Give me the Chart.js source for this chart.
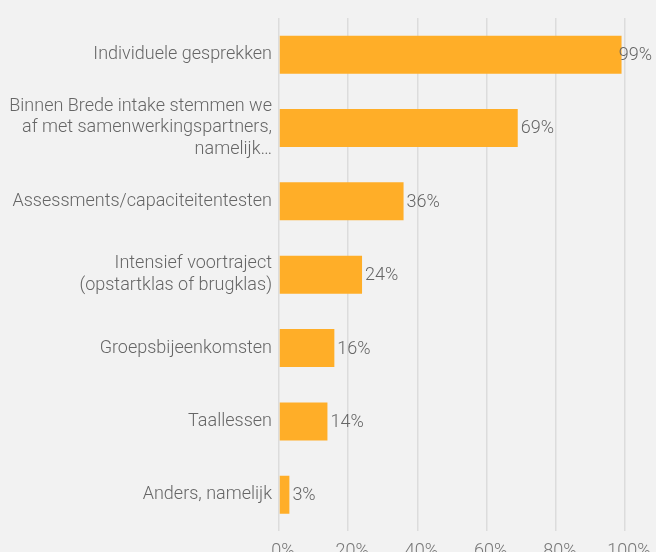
<!DOCTYPE html>
<html>
<head>
<meta charset="utf-8">
<script src="https://cdn.jsdelivr.net/npm/chart.js@4"></script>
<style>
  html, body { margin: 0; padding: 0; background: #f2f2f2; overflow: hidden; }
  #wrap { width: 656px; height: 575px; }
</style>
</head>
<body>
<div id="wrap"><canvas id="chart-area"></canvas></div>
<script>
// categories (multi-line labels as arrays)
var categories = [
  'Individuele gesprekken',
  ['Binnen Brede intake stemmen we', 'af met samenwerkingspartners,', 'namelijk…'],
  'Assessments/capaciteitentesten',
  ['Intensief voortraject', '(opstartklas of brugklas)'],
  'Groepsbijeenkomsten',
  'Taallessen',
  'Anders, namelijk'
];
// percentages
var percentages = [99, 69, 36, 24, 16, 14, 3];
var tickMax = 100;
var tickStep = 10;

var fontFamily = 'Roboto, "Noto Sans", sans-serif';

// draws "xx%" just right of every bar, kept inside the canvas
var valueLabels = {
  id: 'valueLabels',
  afterDatasetsDraw: function(chart) {
    var ctx = chart.ctx;
    var meta = chart.getDatasetMeta(0);
    ctx.save();
    ctx.font = '300 18px ' + fontFamily;
    ctx.fillStyle = '#666666';
    ctx.textAlign = 'left';
    ctx.textBaseline = 'middle';
    meta.data.forEach(function(bar, i) {
      var txt = percentages[i] + '%';
      var w = ctx.measureText(txt).width;
      var x = Math.min(bar.x + 3, chart.width - w - 4);
      ctx.fillText(txt, x, bar.y + 1);
    });
    ctx.restore();
  }
};

var config = {
  type: 'bar',
  data: {
    labels: categories,
    datasets: [{
      data: percentages,
      backgroundColor: '#ffae28',
      borderWidth: 0,
      barPercentage: 0.74,
      categoryPercentage: 0.7
    }]
  },
  options: {
    indexAxis: 'y',
    responsive: true,
    maintainAspectRatio: false,
    animation: false,
    layout: { padding: { top: 17, right: 31, bottom: 4, left: 0 } },
    plugins: {
      legend: { display: false },
      tooltip: { enabled: false }
    },
    scales: {
      x: {
        min: 0,
        max: tickMax,
        border: { display: false },
        grid: { color: '#dcdcdc', lineWidth: 1.5, drawTicks: false },
        ticks: {
          stepSize: tickStep,
          autoSkip: false,
          maxRotation: 0,
          padding: 9,
          labelOffset: 4,
          color: '#777777',
          font: { family: fontFamily, size: 18, weight: '300' },
          callback: function(v) { return v % 20 === 0 ? v + '%' : null; }
        }
      },
      y: {
        border: { display: false },
        grid: { display: false, drawTicks: false },
        afterFit: function(scale) { scale.width = 279; },
        ticks: {
          padding: 7,
          color: '#666666',
          font: { family: fontFamily, size: 18, weight: '300', lineHeight: 1.22 }
        }
      }
    }
  },
  plugins: [valueLabels]
};

var ctx = document.getElementById('chart-area').getContext('2d');
window.myBar = new Chart(ctx, config);
</script>
</body>
</html>
